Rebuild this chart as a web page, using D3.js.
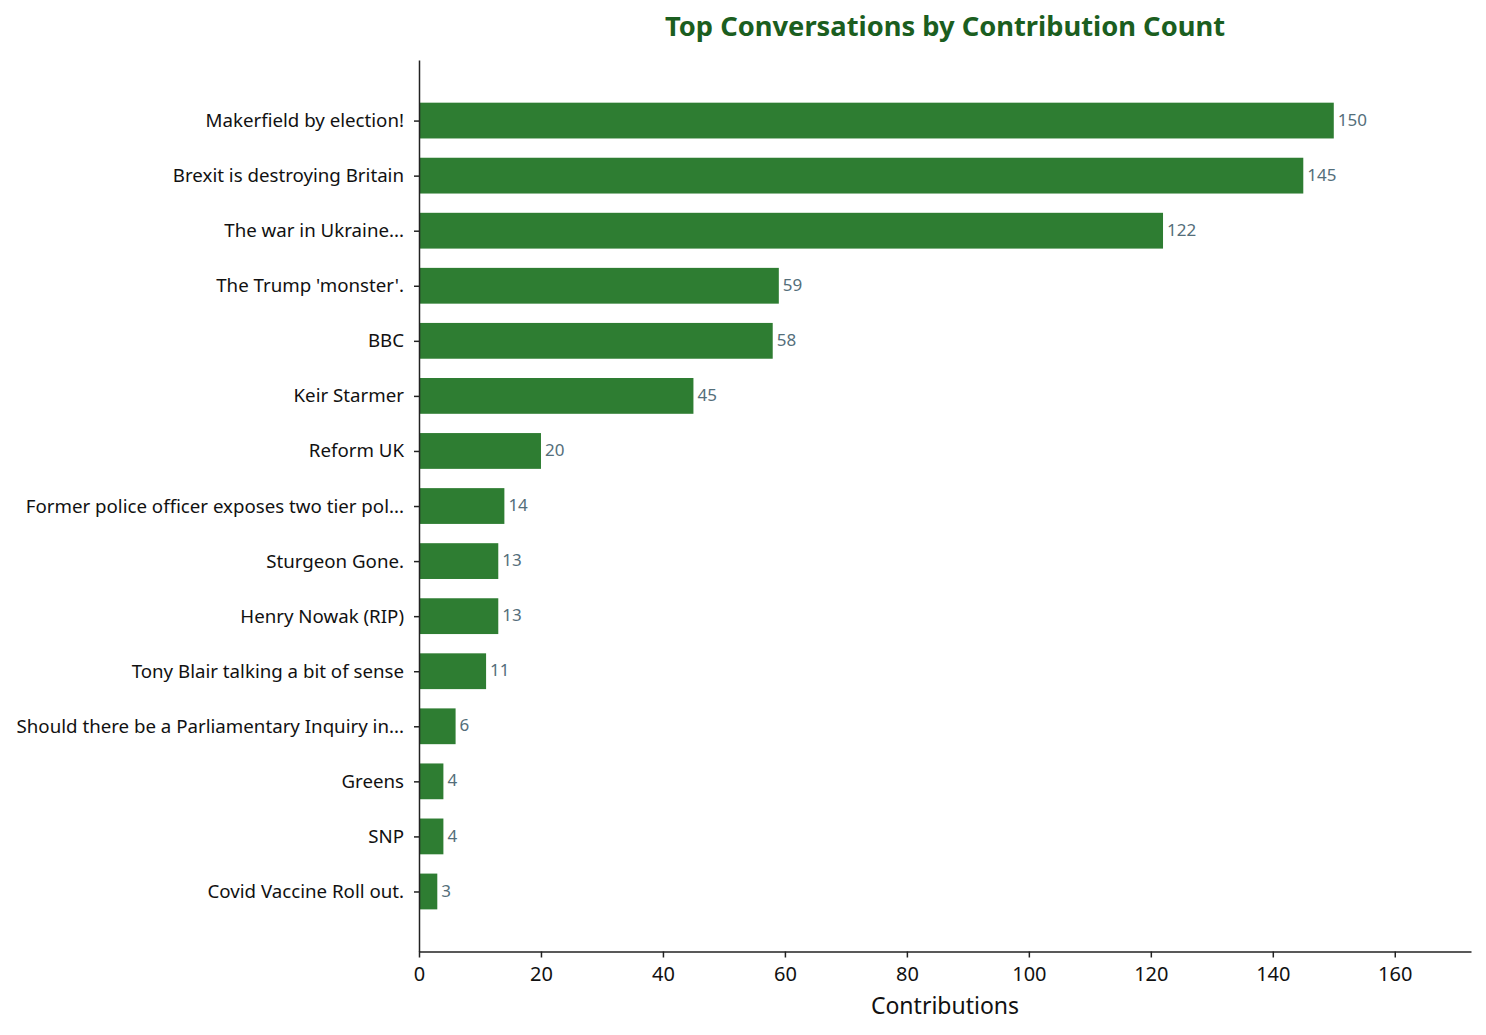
<!DOCTYPE html>
<meta charset="utf-8">
<style>
body { margin: 0; background: #fff; }
svg { font-family: "Noto Sans", sans-serif; }
.axis path, .axis line { stroke: #222; }
.axis text { fill: #111; }
</style>
<body>
<svg id="chart" width="1486" height="1035"></svg>
<script src="https://cdn.jsdelivr.net/npm/d3@7"></script>
<script>
var topics = ["Makerfield by election!", "Brexit is destroying Britain", "The war in Ukraine...",
  "The Trump 'monster'.", "BBC", "Keir Starmer", "Reform UK",
  "Former police officer exposes two tier pol...", "Sturgeon Gone.", "Henry Nowak (RIP)",
  "Tony Blair talking a bit of sense", "Should there be a Parliamentary Inquiry in...",
  "Greens", "SNP", "Covid Vaccine Roll out."];
var counts = [150, 145, 122, 59, 58, 45, 20, 14, 13, 13, 11, 6, 4, 4, 3];
var xTicks = [0, 20, 40, 60, 80, 100, 120, 140, 160];

var svg = d3.select("#chart");
var mLeft = 419, mRight = 1471, mTop = 60, mBottom = 951.5;

var x = d3.scaleLinear().domain([0, d3.max(counts) * 1.15]).range([mLeft, mRight]);
// bar i sits at index i, a bit of room above the first and below the last
var n = topics.length;
var y = d3.scaleLinear().domain([-1.1, n - 1 + 1.09]).range([mTop, mBottom]);
var bh = y(0.65) - y(0);

svg.selectAll(".bar").data(counts).enter().append("rect")
  .attr("class", "bar")
  .attr("x", x(0))
  .attr("y", function(d, i) { return y(i) - bh / 2; })
  .attr("width", function(d) { return x(d) - x(0); })
  .attr("height", bh)
  .attr("fill", "#2e7d32");

svg.selectAll(".val").data(counts).enter().append("text")
  .attr("class", "val")
  .attr("x", function(d) { return x(d) + 4; })
  .attr("y", function(d, i) { return y(i); })
  .attr("dy", "0.3em")
  .attr("font-size", 17)
  .attr("fill", "#546e7a")
  .text(function(d) { return d; });

var xAxis = svg.append("g").attr("class", "axis")
  .attr("transform", "translate(0," + mBottom + ")")
  .call(d3.axisBottom(x).tickValues(xTicks).tickSize(6).tickPadding(9).tickSizeOuter(0));
xAxis.attr("font-family", null).attr("font-size", null);
xAxis.selectAll("text").attr("font-size", 20);
xAxis.selectAll("path, line").attr("stroke-width", 1.5);

var yAxis = svg.append("g").attr("class", "axis")
  .attr("transform", "translate(" + mLeft + ",0)")
  .call(d3.axisLeft(y).tickValues(d3.range(n)).tickFormat(function(i) { return topics[i]; })
    .tickSize(5).tickPadding(10).tickSizeOuter(0));
yAxis.attr("font-family", null).attr("font-size", null);
yAxis.selectAll("text").attr("font-size", 18.7);
yAxis.selectAll("path, line").attr("stroke-width", 1.5);

svg.append("text")
  .attr("x", (mLeft + mRight) / 2).attr("y", 1014)
  .attr("text-anchor", "middle").attr("font-size", 23).attr("fill", "#111")
  .text("Contributions");

svg.append("text")
  .attr("x", (mLeft + mRight) / 2).attr("y", 36)
  .attr("text-anchor", "middle").attr("font-size", 27.3).attr("font-weight", "bold")
  .attr("fill", "#1b5e20")
  .text("Top Conversations by Contribution Count");
</script>
</body>
